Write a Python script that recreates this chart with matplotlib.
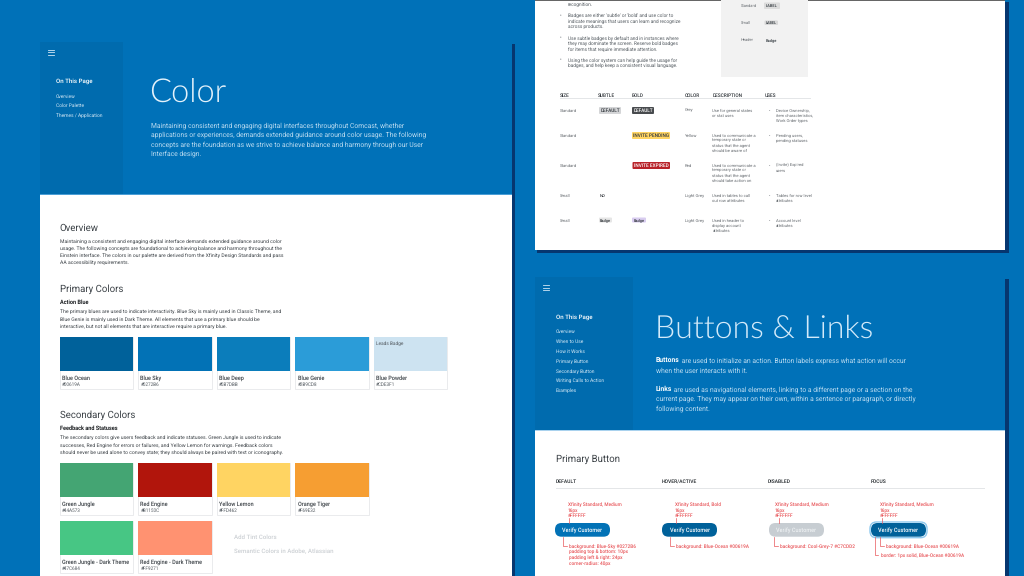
import matplotlib
matplotlib.use("Agg")
import matplotlib.pyplot as plt
from matplotlib.patches import Rectangle, FancyBboxPatch

plt.rcParams["text.hinting"] = "none"

BG = "#0071b8"
SIDE = "#006bae"
SHADOW = "#06366f"
LIGHT = "#bcdcf1"
INK = "#3c4247"
RED = "#e8565a"
BODY = "Roboto"
THIN = "Lato"
SEMI = 500

color_nav = ["Overview", "Color Palette", "Themes / Application"]
color_intro = ["Maintaining consistent and engaging digital interfaces throughout Comcast, whether",
               "applications or experiences, demands extended guidance around color usage. The following",
               "concepts are the foundation as we strive to achieve balance and harmony through our User",
               "Interface design."]
overview_text = ["Maintaining a consistent and engaging digital interface demands extended guidance around color",
                 "usage. The following concepts are foundational to achieving balance and harmony throughout the",
                 "Einstein interface. The colors in our palette are derived from the Xfinity Design Standards and pass",
                 "AA accessibility requirements."]
primary_text = ["The primary blues are used to indicate interactivity. Blue Sky is mainly used in Classic Theme, and",
                "Blue Genie is mainly used in Dark Theme. All elements that use a primary blue should be",
                "interactive, but not all elements that are interactive require a primary blue."]
secondary_text = ["The secondary colors give users feedback and indicate statuses. Green Jungle is used to indicate",
                  "successes, Red Engine for errors or failures, and Yellow Lemon for warnings. Feedback colors",
                  "should never be used alone to convey state; they should always be paired with text or iconography."]
primary_names = ["Blue Ocean", "Blue Sky", "Blue Deep", "Blue Genie", "Blue Powder"]
primary_hex = ["#00619A", "#0272B6", "#0B7DBB", "#2B9CD8", "#CDE3F1"]
secondary_names = ["Green Jungle", "Red Engine", "Yellow Lemon", "Orange Tiger"]
secondary_hex = ["#44A573", "#B1150C", "#FFD462", "#F69E32"]
dark_names = ["Green Jungle - Dark Theme", "Red Engine - Dark Theme"]
dark_hex = ["#47C684", "#FF9271"]

badge_bullets = [["recognition."],
                 ["Badges are either 'subtle' or 'bold' and use color to",
                  "indicate meanings that users can learn and recognize",
                  "across products."],
                 ["Use subtle badges by default and in instances where",
                  "they may dominate the screen. Reserve bold badges",
                  "for items that require immediate attention."],
                 ["Using the color system can help guide the usage for",
                  "badges, and help keep a consistent visual language."]]
table_heads = ["SIZE", "SUBTLE", "BOLD", "COLOR", "DESCRIPTION", "USES"]
table_sizes = ["Standard", "Standard", "Standard", "Small", "Small"]
table_colors = ["Grey", "Yellow", "Red", "Light Grey", "Light Grey"]
table_desc = [["Use for general states", "or stat uses"],
              ["Used to communicate a", "temporary state or", "status that the agent", "should be aware of"],
              ["Used to communicate a", "temporary state or", "status that the agent", "should take action on"],
              ["Used in tables to call", "out row attributes"],
              ["Used in header to", "display account", "attributes"]]
table_uses = [["Device Ownership,", "item characteristics,", "Work Order types"],
              ["Pending users,", "pending statuses"],
              ["(Invite) Expired", "users"],
              ["Tables for row level", "attributes"],
              ["Account level", "attributes"]]

button_nav = ["Overview", "When to Use", "How it Works", "Primary Button",
              "Secondary Button", "Writing Calls to Action", "Examples"]
button_states = ["DEFAULT", "HOVER/ACTIVE", "DISABLED", "FOCUS"]
button_fill = ["#0272B6", "#00619A", "#C7CDD2", "#00619A"]
button_font = ["Xfinity Standard, Medium", "Xfinity Standard, Bold",
               "Xfinity Standard, Medium", "Xfinity Standard, Medium"]
button_size = ["16px", "16px", "16px", "16px"]
button_notes = [["background: Blue-Sky #0272B6", "padding top & bottom: 10px",
                 "padding left & right: 24px", "corner-radius: 40px"],
                ["background: Blue-Ocean #00619A"],
                ["background: Cool-Grey-7 #C7CDD2"],
                ["background: Blue-Ocean #00619A"]]

fig = plt.figure(figsize=(10.24, 5.76), dpi=100, facecolor=BG)
ax = fig.add_axes([0, 0, 1, 1])
ax.set_xlim(0, 1024)
ax.set_ylim(576, 0)
ax.axis("off")


def rect(x0, y0, x1, y1, fc, ec="none", lw=0, z=1):
    ax.add_patch(Rectangle((x0, y0), x1 - x0, y1 - y0, fc=fc, ec=ec, lw=lw, zorder=z))


def pill(x0, y0, x1, y1, fc, r=1.0, ec="none", lw=0, z=3):
    ax.add_patch(FancyBboxPatch((x0 + r, y0 + r), x1 - x0 - 2 * r, y1 - y0 - 2 * r,
                                boxstyle=f"round,pad={r},rounding_size={r}",
                                fc=fc, ec=ec, lw=lw, zorder=z))


def t(x, y, s, size=4.4, color=INK, weight="normal", family=BODY, ha="left", z=5):
    # y is the middle of the capitals; a baseline anchor keeps rows level whatever the glyphs
    return ax.text(x, y + 0.5 * size, s, fontsize=size, color=color, fontweight=weight, family=family,
                   ha=ha, va="baseline", zorder=z)


def lines(x, ys, rows, **kw):
    for y, s in zip(ys, rows):
        t(x, y, s, **kw)


def burger(x0, x1, y0):
    for k in range(3):
        ax.plot([x0, x1], [y0 + k * 2.5] * 2, color="#cfe6f5", lw=0.6, zorder=5)


def swatch(x, y, name, hexcode):
    rect(x, y, x + 73.5, y + 52, "white", ec="#e6e8ea", lw=0.6, z=2)
    rect(x, y, x + 73.5, y + 34, hexcode, z=3)
    t(x + 2.5, y + 40.7, name, size=4.0, weight=SEMI)
    t(x + 2.5, y + 47, hexcode, size=3.3, color="#555c62")


# ---- left panel: Color
rect(511, 44, 514.5, 576, SHADOW)
rect(40, 42, 511.5, 576, "white", z=2)
rect(40, 42, 511.5, 194, BG, z=3)
rect(40, 42, 123, 194, SIDE, z=3)
rect(40, 193.6, 511.5, 194.6, "#4a9ed6", z=3)
burger(48, 54, 49.5)
t(56, 81, "On This Page", size=4.4, color="white", weight=SEMI)
lines(56, [96, 105.7, 115.5], color_nav, size=3.5, color="#d5e9f6")
t(149, 90, "Color", size=23.5, color="#e4f2fb", weight=300, family=THIN)
lines(151, [124.7, 134, 143.7, 153], color_intro, size=4.9, color=LIGHT)
t(59.5, 227.5, "Overview", size=6.9)
lines(59.5, [241, 248, 255, 262.3], overview_text, size=3.72)
t(59.5, 288, "Primary Colors", size=6.9)
t(59.5, 302, "Action Blue", size=4.0, color="#1c1f22", weight="bold")
lines(59.5, [311.5, 318.7, 326], primary_text, size=3.72)
col_x = [59.5, 138, 216.5, 295, 373.5]
for x, n, h in zip(col_x, primary_names, primary_hex):
    swatch(x, 337, n, h)
t(376.5, 343, "Leads Badge", size=3.4, color="#555c62")
t(59.5, 414, "Secondary Colors", size=6.9)
t(59.5, 428, "Feedback and Statuses", size=4.0, color="#1c1f22", weight="bold")
lines(59.5, [437.5, 444.7, 452], secondary_text, size=3.72)
for x, n, h in zip(col_x, secondary_names, secondary_hex):
    swatch(x, 463, n, h)
for x, n, h in zip(col_x, dark_names, dark_hex):
    swatch(x, 521, n, h)
t(234.5, 537, "Add Tint Colors", size=4.4, color="#ccd0d4", weight=SEMI)
t(234.5, 550.5, "Semantic Colors in Adobe, Atlassian", size=4.4, color="#ccd0d4", weight=SEMI)

# ---- top right panel: Badges
rect(537, 2, 1008.5, 252.5, SHADOW)
rect(534.7, 0, 1005.3, 250, "white", z=2)
rect(534.7, 0, 1005.3, 0.8, "#666666", z=3)
t(567.5, 4.7, badge_bullets[0][0], size=3.4, color="#555c62")
bullet_y = [[15.7, 21, 26.7], [38, 43.7, 49], [60, 65.7]]
for ys, rows in zip(bullet_y, badge_bullets[1:]):
    t(559.5, ys[0], "•", size=3.4, color="#555c62")
    lines(567.5, ys, rows, size=3.4, color="#555c62")
rect(720.7, 0, 808, 77, "#f2f2f2", z=3)
t(740.7, 5.7, "Standard", size=2.9, color="#666b70")
pill(764, 2.5, 780, 9, "#dcdcdc")
t(772, 5.8, "LABEL", size=2.9, color="#333a40", weight=SEMI, ha="center")
t(740.7, 23, "Small", size=2.9, color="#666b70")
pill(764.5, 20.5, 778, 25, "#d8d8d8")
t(771.2, 22.7, "LABEL", size=2.7, color="#333a40", weight=SEMI, ha="center")
t(740.7, 39.5, "Header", size=2.9, color="#666b70")
t(771.5, 39.5, "Badge", size=2.9, color="#333a40", weight=SEMI, ha="center")

table_x = [559.7, 598, 632, 684.7, 712.7, 764.5]
for x, h in zip(table_x, table_heads):
    t(x, 95, h, size=3.4, color="#33383d", weight=SEMI)
rect(559.7, 98.2, 811, 98.7, "#e4e6e8", z=3)
row_y = [110, 135, 165, 195, 220]
for i, y in enumerate(row_y):
    t(table_x[0], y, table_sizes[i], size=3.1, color="#666b70")
    t(table_x[3], y, table_colors[i], size=3.1, color="#666b70")
    lines(712.5, [y + 5 * k for k in range(len(table_desc[i]))], table_desc[i], size=3.0, color="#666b70")
    t(768.5, y, "•", size=3.1, color="#666b70")
    lines(776, [y + 5 * k for k in range(len(table_uses[i]))], table_uses[i], size=3.0, color="#666b70")
pill(599, 107, 621, 114, "#d4d5d7")
t(610, 110.6, "DEFAULT", size=3.3, color="#33383d", weight=SEMI, ha="center")
pill(632, 107, 654, 114, "#484b4e")
t(643, 110.6, "DEFAULT", size=3.3, color="white", weight=SEMI, ha="center")
pill(632, 132, 670, 139, "#ffd462")
t(651, 135.6, "INVITE PENDING", size=3.4, color="#33383d", weight=SEMI, ha="center")
pill(632.5, 162, 670, 169, "#b8232a")
t(651.2, 165.6, "INVITE EXPIRED", size=3.4, color="white", weight=SEMI, ha="center")
t(600, 195, "NO", size=3.0, color="#33383d", weight=SEMI)
pill(599, 217.5, 612, 222.5, "#e6e6e6")
t(605.5, 220, "Badge", size=2.8, color="#33383d", weight=SEMI, ha="center")
pill(632, 217.5, 646, 222.5, "#d9cdf0")
t(639, 220, "Badge", size=2.8, color="#33383d", weight=SEMI, ha="center")

# ---- bottom right panel: Buttons
rect(1005, 279, 1008.5, 576, SHADOW)
rect(534.7, 277, 1005.3, 576, "white", z=2)
rect(534.7, 277, 1005.3, 430, BG, z=3)
rect(534.7, 277, 633, 430, SIDE, z=3)
rect(534.7, 429.6, 1005.3, 430.6, "#a9d2ee", z=3)
burger(542.5, 549, 285)
t(556, 317, "On This Page", size=4.4, color="white", weight=SEMI)
lines(556, [331.5, 341.5, 351, 361, 371, 380.5, 390.5], button_nav, size=3.5, color="#d5e9f6")
t(655, 326.5, "Buttons & Links", size=23, color="#d3eafa", weight=300, family=THIN)

fig.canvas.draw()
renderer = fig.canvas.get_renderer()


def lead(x, y, bold, rest):
    a = t(x, y, bold, size=4.9, color="white", weight="bold")
    w = a.get_window_extent(renderer).width
    t(x + w, y, rest, size=4.9, color=LIGHT)


lead(656, 360.5, "Buttons", " are used to initialize an action. Button labels express what action will occur")
t(656, 370, "when the user interacts with it.", size=4.9, color=LIGHT)
lead(656, 388.7, "Links", " are used as navigational elements, linking to a different page or a section on the")
t(656, 398, "current page. They may appear on their own, within a sentence or paragraph, or directly", size=4.9, color=LIGHT)
t(656, 408, "following content.", size=4.9, color=LIGHT)

t(555.7, 458, "Primary Button", size=6.9)
state_x = [555.7, 662, 768, 870.5]
for x, s in zip(state_x, button_states):
    t(x, 480.7, s, size=3.6, color="#22272b", weight=SEMI)
rect(555.7, 488, 985, 488.5, "#e4e6e8", z=3)

btn_x = [555, 662, 769, 871]
top_x = [568, 674.7, 775, 880]
stem_x = [569.3, 676, 779, 881.5]
note_x = [563.3, 670, 774, 880]


def red_line(xs, ys):
    ax.plot(xs, ys, color=RED, lw=0.5, zorder=4)


for i in range(4):
    x = btn_x[i]
    if i == 3:
        pill(x - 1, 522, x + 56, 537.7, "none", r=6.5, ec="#8cc8ee", lw=1.0, z=3)
    pill(x, 523, x + 55, 536.7, button_fill[i], r=6.5, z=4)
    t(x + 27.5, 530, "Verify Customer", size=4.0,
      color="#eef1f3" if i == 2 else "white", weight=SEMI, ha="center", z=6)
    lines(top_x[i], [504, 510, 515.7], [button_font[i], button_size[i], "#FFFFFF"],
          size=3.4, color=RED, weight=SEMI)
    red_line([stem_x[i], stem_x[i]], [518, 523])
    red_line([note_x[i], note_x[i], note_x[i] + 4], [537, 545.7, 545.7])
    ys = [546 + 5.6 * k for k in range(len(button_notes[i]))]
    lines(note_x[i] + 5.5, ys, button_notes[i], size=3.4, color=RED, weight=SEMI)
red_line([875, 875, 878], [537, 555.3, 555.3])
t(881, 555.5, "border: 1px solid, Blue-Ocean #00619A", size=3.4, color=RED, weight=SEMI)

fig.savefig("out.png", dpi=100, facecolor=BG)
